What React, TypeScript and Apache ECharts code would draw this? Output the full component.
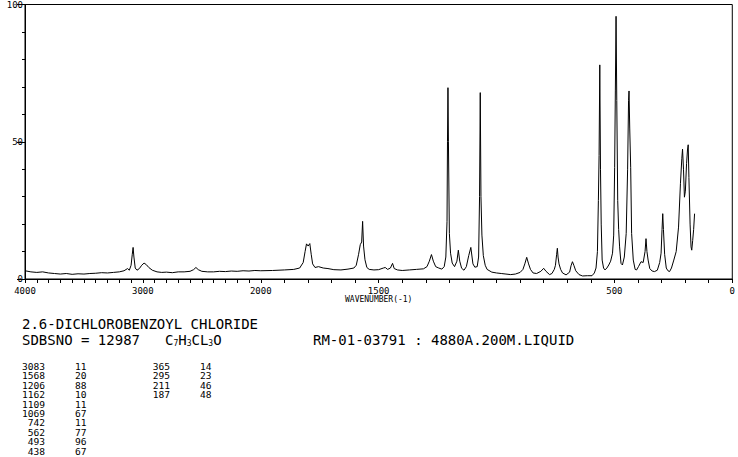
import React, { useEffect, useRef } from "react";
import * as echarts from "echarts";

// Raman spectrum: [wavenumber (cm-1), relative intensity]
const spectrum: [number, number][] = [
  [4000, 3.0], [3950, 2.6], [3900, 2.4], [3850, 2.6], [3800, 2.2], [3750, 2.0],
  [3700, 1.8], [3650, 2.0], [3600, 1.7], [3550, 1.9], [3500, 1.8], [3450, 2.0],
  [3400, 2.1], [3350, 2.3], [3300, 2.2], [3250, 2.4], [3200, 2.6], [3160, 3.0],
  [3130, 3.8], [3115, 3.2], [3100, 5.0], [3090, 9.0], [3083, 11.5], [3076, 8.0],
  [3065, 4.0], [3050, 3.2], [3030, 3.8], [3010, 5.0], [2990, 5.8], [2970, 5.2],
  [2950, 4.2], [2920, 3.2], [2880, 2.6], [2840, 2.4], [2800, 2.5], [2750, 2.3],
  [2700, 2.6], [2650, 2.6], [2600, 2.8], [2570, 3.4], [2550, 4.2], [2530, 3.4],
  [2500, 2.8], [2450, 2.6], [2400, 2.6], [2350, 2.8], [2300, 2.7], [2250, 2.9],
  [2200, 2.8], [2150, 3.0], [2100, 2.9], [2050, 3.1], [2000, 3.0],
  [1950, 3.1], [1900, 3.3], [1860, 3.5], [1835, 4.0], [1820, 6.0], [1812, 10.0],
  [1806, 12.8], [1799, 12.0], [1792, 12.9], [1786, 9.0], [1780, 5.5], [1770, 4.2],
  [1755, 4.5], [1735, 4.0], [1715, 3.8], [1690, 3.4], [1660, 3.3], [1630, 3.6],
  [1605, 4.0], [1595, 5.0], [1585, 9.0], [1578, 12.5], [1572, 13.5], [1568, 21.0],
  [1564, 12.0], [1558, 7.0], [1550, 4.2], [1540, 3.5], [1520, 3.3], [1500, 3.4],
  [1480, 4.0], [1472, 4.2], [1462, 3.5], [1450, 4.0], [1441, 5.7], [1434, 3.8],
  [1420, 3.3], [1400, 3.1], [1370, 3.3], [1340, 3.5], [1310, 3.7], [1295, 4.5],
  [1285, 6.5], [1276, 8.9], [1268, 6.5], [1258, 4.5], [1245, 4.0], [1232, 3.6],
  [1222, 4.5], [1215, 8.0], [1210, 21.0], [1208, 50.0], [1206, 69.7], [1204, 50.0],
  [1200, 16.6], [1195, 9.4], [1188, 5.8], [1178, 4.5], [1168, 6.5], [1162, 10.5],
  [1156, 6.5], [1148, 3.9], [1138, 3.2], [1128, 4.5], [1118, 8.5], [1109, 11.5],
  [1100, 5.5], [1092, 4.3], [1082, 4.5], [1076, 8.0], [1072, 30.0], [1069, 67.9],
  [1066, 30.0], [1062, 16.0], [1056, 8.5], [1048, 5.0], [1040, 3.5], [1020, 2.5],
  [1000, 2.2], [980, 2.0], [960, 1.8], [940, 1.6], [920, 1.8], [900, 2.4],
  [888, 3.5], [880, 5.5], [872, 7.9], [864, 5.5], [856, 3.5], [845, 2.2],
  [830, 2.0], [812, 2.8], [800, 3.9], [790, 2.8], [775, 1.6], [765, 2.0],
  [755, 3.5], [750, 5.0], [745, 9.0], [742, 11.2], [739, 8.0], [735, 5.5],
  [728, 3.5], [720, 2.2], [705, 1.5], [690, 2.5], [684, 4.8], [678, 6.3],
  [672, 5.0], [664, 3.0], [650, 1.6], [635, 1.1], [615, 1.2], [595, 1.2],
  [585, 2.2], [578, 4.0], [572, 10.0], [568, 28.6], [565, 45.0], [562, 78.0],
  [559, 40.0], [556, 20.0], [552, 6.9], [546, 4.0], [540, 3.3], [532, 4.0],
  [524, 5.1], [516, 6.5], [508, 9.4], [503, 16.0], [499, 40.7], [496, 68.5],
  [493, 95.7], [490, 65.0], [486, 28.6], [482, 18.0], [478, 11.7], [472, 5.7],
  [466, 5.1], [458, 8.0], [450, 16.6], [444, 40.0], [440, 65.0], [438, 68.5],
  [435, 55.0], [431, 40.7], [427, 16.6], [420, 6.9], [412, 3.5], [406, 3.3],
  [398, 4.5], [387, 6.3], [378, 6.0], [370, 10.0], [366, 14.7], [362, 10.0],
  [357, 6.9], [350, 3.8], [340, 2.9], [330, 2.7], [318, 3.2], [308, 6.0],
  [302, 9.4], [298, 18.0], [295, 23.8], [292, 18.0], [287, 9.0], [280, 4.0],
  [273, 3.0], [266, 2.7], [258, 4.0], [248, 6.9], [238, 10.0], [228, 18.9],
  [220, 34.7], [214, 44.0], [211, 47.3], [207, 40.0], [203, 29.8], [199, 32.0],
  [194, 42.0], [190, 47.0], [187, 48.9], [184, 37.0], [179, 20.0], [175, 11.7],
  [172, 10.5], [168, 14.0], [164, 18.0], [160, 23.8],
];

const xLabelWavenumbers = [4000, 3000, 2000, 1500, 500, 0];
const xTickStep = 100;
const yInterval = 50;

const compoundName = "2.6-DICHLOROBENZOYL CHLORIDE";
const sdbsLine = "SDBSNO = 12987";
const sampleLine = "RM-01-03791 : 4880A.200M.LIQUID";
const axisTitle = "WAVENUMBER(-1)";

const peakWavenumbersA = ["3083", "1568", "1206", "1162", "1109", "1069", "742", "562", "493", "438"];
const peakIntensitiesA = ["11", "20", "88", "10", "11", "67", "11", "77", "96", "67"];
const peakWavenumbersB = ["365", "295", "211", "187"];
const peakIntensitiesB = ["14", "23", "46", "48"];

// Axis is compressed by half above 2000 cm-1
const toT = (w: number) => (w > 2000 ? 2000 + (w - 2000) / 2 : w);
const fromT = (t: number) => Math.round(t > 2000 ? 2000 + (t - 2000) * 2 : t);

const MONO = '"DejaVu Sans Mono", monospace';

export default function App() {
  const ref = useRef<HTMLDivElement>(null);
  useEffect(() => {
    if (!ref.current) return;
    const chart = echarts.init(ref.current, undefined, { renderer: "svg" });

    const tickValues: number[] = [];
    for (let w = 0; w <= 4000; w += xTickStep) tickValues.push(toT(w));

    const rowH = 9.45;
    const row0 = 367;
    const tableTexts: any[] = [];
    const addCol = (vals: string[], x: number, align: string) => {
      vals.forEach((v, i) => {
        tableTexts.push({
          type: "text",
          x,
          y: row0 + i * rowH,
          scaleX: 1.2,
          silent: true,
          style: { text: v, font: `8px ${MONO}`, fill: "#000", align, verticalAlign: "middle" },
        });
      });
    };
    addCol(peakWavenumbersA, 45, "right");
    addCol(peakIntensitiesA, 75, "left");
    addCol(peakWavenumbersB, 170, "right");
    addCol(peakIntensitiesB, 200, "left");

    chart.setOption({
      animation: false,
      grid: {
        left: 25, right: 1, top: 3, bottom: 178,
        show: true, borderColor: "#000", borderWidth: 1, backgroundColor: "transparent",
      },
      xAxis: {
        type: "value", min: 0, max: 3000, inverse: true,
        axisLine: { show: true, onZero: false, lineStyle: { color: "#000", width: 1 } },
        axisTick: { show: true, customValues: tickValues, length: 4, lineStyle: { color: "#000" } },
        axisLabel: {
          customValues: xLabelWavenumbers.map(toT),
          formatter: (v: number) => String(fromT(v)),
          fontFamily: MONO, fontSize: 9, color: "#000", margin: 7,
        },
        splitLine: { show: false },
      },
      yAxis: {
        type: "value", min: 0, max: 100, interval: yInterval,
        axisLine: { show: true, onZero: false, lineStyle: { color: "#000", width: 1 } },
        axisTick: { show: true, length: 8, lineStyle: { color: "#000" } },
        minorTick: { show: true, splitNumber: 5, length: 3, lineStyle: { color: "#000" } },
        axisLabel: { fontFamily: MONO, fontSize: 9, color: "#000", margin: 2 },
        splitLine: { show: false },
        minorSplitLine: { show: false },
      },
      series: [
        {
          type: "line",
          data: spectrum.map(([w, v]) => [toT(w), v]),
          showSymbol: false,
          symbol: "none",
          silent: true,
          lineStyle: { color: "#000", width: 1 },
        },
      ],
      graphic: [
        {
          type: "text", x: 345, y: 299, silent: true,
          style: { text: axisTitle, font: `8px ${MONO}`, fill: "#000", align: "left", verticalAlign: "middle" },
        },
        {
          type: "text", x: 22, y: 324, silent: true,
          style: { text: compoundName, font: `14px ${MONO}`, fill: "#000", align: "left", verticalAlign: "middle" },
        },
        {
          type: "text", x: 22, y: 340, silent: true,
          style: { text: sdbsLine, font: `14px ${MONO}`, fill: "#000", align: "left", verticalAlign: "middle" },
        },
        {
          type: "text", x: 165, y: 340, silent: true,
          style: {
            text: "C{s|7}H{s|3}CL{s|3}O",
            font: `14px ${MONO}`, fill: "#000", align: "left", verticalAlign: "middle",
            rich: { s: { font: `8px ${MONO}`, fill: "#000", verticalAlign: "bottom" } },
          },
        },
        {
          type: "text", x: 313, y: 340, silent: true,
          style: { text: sampleLine, font: `14px ${MONO}`, fill: "#000", align: "left", verticalAlign: "middle" },
        },
        ...tableTexts,
      ],
    });
    return () => chart.dispose();
  }, []);
  return (
    <div
      ref={ref}
      style={{ position: "fixed", left: 0, top: 0, width: 738, height: 457, background: "#fff" }}
    />
  );
}
